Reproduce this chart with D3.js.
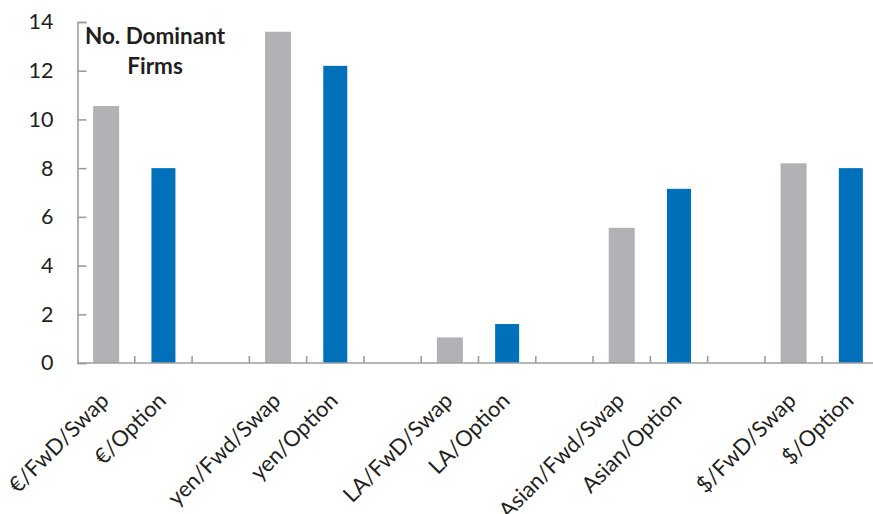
<!DOCTYPE html>
<html>
<head>
<meta charset="utf-8">
<script src="https://cdn.jsdelivr.net/npm/d3@7"></script>
<style>
  html, body { margin: 0; padding: 0; background: #fff; }
  svg text { font-family: Lato, "Open Sans", sans-serif; fill: #231f20; }
</style>
</head>
<body>
<svg id="chart" width="873" height="514"></svg>
<script>
// Slots along the x axis; empty strings are spacer slots between market pairs
const slots = ["€/FwD/Swap", "€/Option", "", "yen/Fwd/Swap", "yen/Option", "",
  "LA/FwD/Swap", "LA/Option", "", "Asian/Fwd/Swap", "Asian/Option", "",
  "$/FwD/Swap", "$/Option"];
const categories = ["€/FwD/Swap", "€/Option", "yen/Fwd/Swap", "yen/Option",
  "LA/FwD/Swap", "LA/Option", "Asian/Fwd/Swap", "Asian/Option",
  "$/FwD/Swap", "$/Option"];
const values = [10.55, 8.0, 13.6, 12.2, 1.05, 1.6, 5.55, 7.15, 8.2, 8.0];
const kinds = ["fwd", "opt", "fwd", "opt", "fwd", "opt", "fwd", "opt", "fwd", "opt"];
const yTicks = [0, 2, 4, 6, 8, 10, 12, 14];
const titleLines = ["No. Dominant", "Firms"];

const colors = { fwd: "#b1b2b6", opt: "#0070ba" };

const svg = d3.select("#chart");

const x = d3.scaleBand()
  .domain(d3.range(slots.length))
  .range([77.5, 879.5])
  .paddingInner(0).paddingOuter(0);

const y = d3.scaleLinear().domain([0, 14]).range([363, 22]);

const axisColor = "#9d9ea2";

// y axis: ticks pointing into the plot
const yAxis = svg.append("g")
  .attr("transform", `translate(${x.range()[0]},0)`)
  .call(d3.axisLeft(y).tickValues(yTicks).tickSize(-9).tickPadding(24).tickFormat(d3.format("d")));
yAxis.select(".domain").attr("stroke", axisColor).attr("stroke-width", 1.6);
yAxis.selectAll(".tick line").attr("stroke", axisColor).attr("stroke-width", 1.6);
yAxis.selectAll(".tick text").attr("font-size", 21.5).attr("fill", "#231f20")
  .attr("x", -24)
  .style("font-family", "Lato, sans-serif");

// bars
const bandW = x.bandwidth();
const barSlots = slots.map((s, i) => i).filter(i => slots[i] !== "");
svg.append("g").selectAll("rect")
  .data(values)
  .join("rect")
  .attr("x", (d, i) => x(barSlots[i]) + bandW / 2 - (kinds[i] === "fwd" ? 13 : 12))
  .attr("width", (d, i) => kinds[i] === "fwd" ? 26 : 24)
  .attr("y", d => y(d))
  .attr("height", d => y(0) - y(d))
  .attr("fill", (d, i) => colors[kinds[i]]);

// x axis: boundary ticks between slots, pointing up
const xAxisG = svg.append("g").attr("transform", `translate(0,${y(0)})`);
xAxisG.append("line")
  .attr("x1", x.range()[0]).attr("x2", x.range()[1])
  .attr("stroke", axisColor).attr("stroke-width", 1.6);
xAxisG.selectAll("line.tick")
  .data(d3.range(1, slots.length + 1))
  .join("line")
  .attr("class", "tick")
  .attr("x1", i => x.range()[0] + i * bandW)
  .attr("x2", i => x.range()[0] + i * bandW)
  .attr("y1", 0).attr("y2", -7)
  .attr("stroke", axisColor).attr("stroke-width", 1.6);

// rotated category labels
xAxisG.selectAll("text.cat")
  .data(categories)
  .join("text")
  .attr("class", "cat")
  .attr("text-anchor", "end")
  .attr("font-size", 22)
  .attr("transform", (d, i) => `translate(${x(barSlots[i]) + bandW / 2 + 4},${39}) rotate(-45)`)
  .text(d => d);

// in-plot title
svg.append("g").selectAll("text")
  .data(titleLines)
  .join("text")
  .attr("x", 155)
  .attr("y", (d, i) => 44 + i * 30)
  .attr("text-anchor", "middle")
  .attr("font-size", 22.5)
  .attr("font-weight", "bold")
  .text(d => d);
</script>
</body>
</html>
